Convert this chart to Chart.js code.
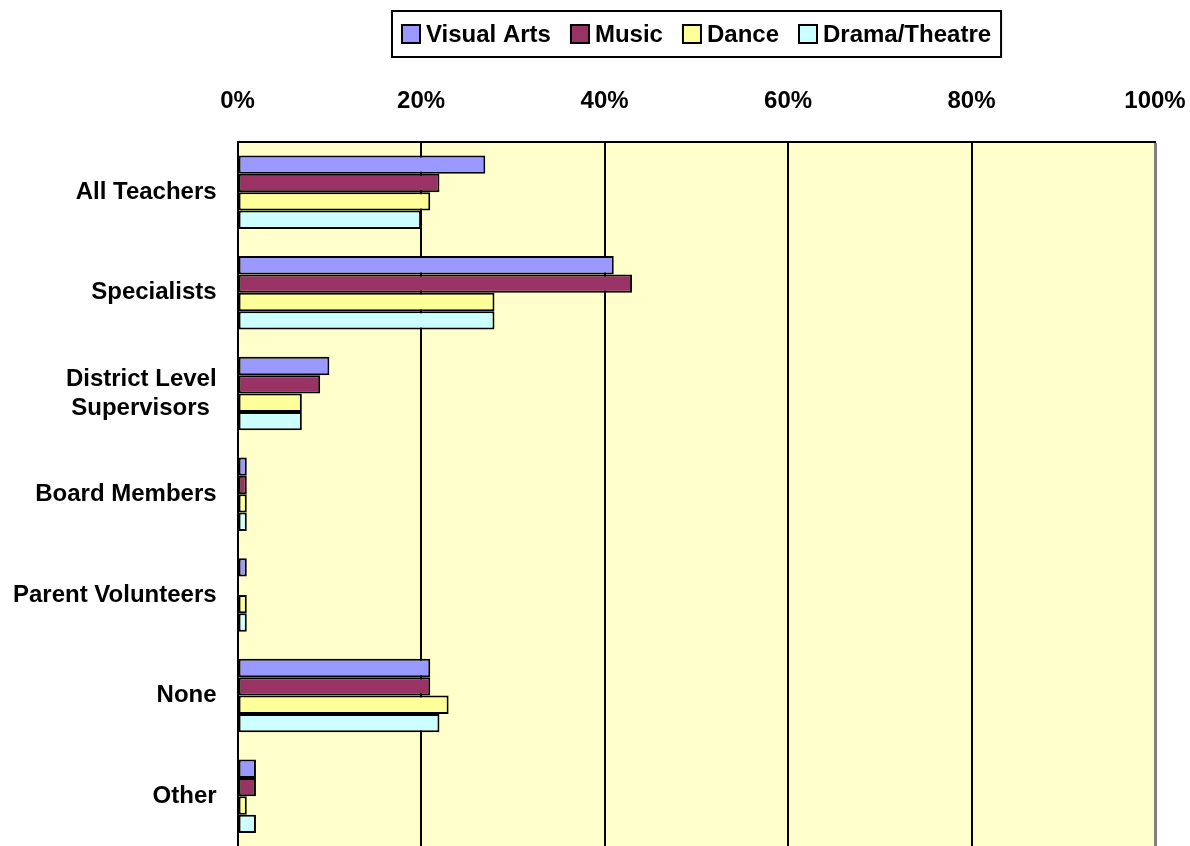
<!DOCTYPE html>
<html>
<head>
<meta charset="utf-8">
<script src="https://cdn.jsdelivr.net/npm/chart.js@4.4.1/dist/chart.umd.min.js"></script>
<style>
  html, body { margin: 0; padding: 0; background: #ffffff; overflow: hidden; }
  #wrap { width: 1190px; height: 846px; position: relative; overflow: hidden; }
  #c { display: block; }
</style>
</head>
<body>
<div id="wrap"><canvas id="c" width="1190" height="861"></canvas></div>
<script>
const categories = ['All Teachers', 'Specialists', ['District Level', 'Supervisors '], 'Board Members', 'Parent Volunteers', 'None', 'Other'];
const seriesNames = ['Visual Arts', 'Music', 'Dance', 'Drama/Theatre'];
const visualArts = [27, 41, 10, 1, 1, 21, 2];
const music      = [22, 43, 9, 1, 0, 21, 2];
const dance      = [21, 28, 7, 1, 1, 23, 1];
const drama      = [20, 28, 7, 1, 1, 22, 2];
const tickValues = [0, 20, 40, 60, 80, 100];
const seriesColors = ['#9999FF', '#993366', '#FFFF99', '#CCFFFF'];

const FONT = '"Liberation Sans", Arial, Helvetica, sans-serif';
const allValues = [visualArts, music, dance, drama];

const plotBg = {
  id: 'plotBg',
  beforeDraw(chart) {
    const a = chart.chartArea, ctx = chart.ctx;
    ctx.save();
    ctx.fillStyle = '#FFFFCC';
    ctx.fillRect(a.left, a.top, a.right - a.left, a.bottom - a.top);
    ctx.restore();
  }
};

const boxLegend = {
  id: 'boxLegend',
  afterDraw(chart) {
    const ctx = chart.ctx, a = chart.chartArea;
    ctx.save();
    ctx.font = 'bold 24px ' + FONT;
    const marker = 18, gapText = 6, gapItem = 20, margin = 10;
    const widths = chart.data.datasets.map(d => ctx.measureText(d.label).width);
    let total = margin * 2;
    widths.forEach((w, i) => { total += marker + gapText + w + (i < widths.length - 1 ? gapItem : 0); });
    const cx = (a.left + a.right) / 2;
    const left = Math.round(cx - total / 2), top = 11, h = 46;
    ctx.fillStyle = '#ffffff';
    ctx.fillRect(left, top, total, h);
    ctx.strokeStyle = '#000000';
    ctx.lineWidth = 2;
    ctx.strokeRect(left, top, total, h);
    let x = left + margin;
    const cy = top + h / 2;
    chart.data.datasets.forEach((d, i) => {
      ctx.fillStyle = d.backgroundColor;
      ctx.fillRect(x, cy - marker / 2, marker, marker);
      ctx.lineWidth = 2;
      ctx.strokeStyle = '#000000';
      ctx.strokeRect(x, cy - marker / 2, marker, marker);
      x += marker + gapText;
      ctx.fillStyle = '#000000';
      ctx.textBaseline = 'middle';
      ctx.textAlign = 'left';
      ctx.fillText(d.label, x, cy + 1);
      x += widths[i] + gapItem;
    });
    ctx.restore();
  }
};

new Chart(document.getElementById('c'), {
  type: 'bar',
  data: {
    labels: categories,
    datasets: seriesNames.map((name, i) => ({
      label: name,
      data: allValues[i],
      backgroundColor: seriesColors[i],
      borderColor: '#000000',
      borderWidth: 2,
      borderSkipped: false,
      barPercentage: 1.0,
      categoryPercentage: 0.73
    }))
  },
  options: {
    indexAxis: 'y',
    responsive: false,
    animation: false,
    devicePixelRatio: 1,
    layout: { padding: { top: 87, left: 13, right: 35, bottom: 0 } },
    plugins: { legend: { display: false }, tooltip: { enabled: false } },
    scales: {
      x: {
        position: 'top',
        min: 0, max: 100,
        afterBuildTicks(axis) { axis.ticks = tickValues.map(v => ({ value: v })); },
        ticks: {
          callback: v => v + '%',
          color: '#000000',
          font: { family: FONT, size: 24, weight: 'bold' },
          padding: 0,
          maxRotation: 0
        },
        grid: {
          color: ctx => (ctx.tick && ctx.tick.value === 100) ? '#808080' : '#000000',
          lineWidth: ctx => (ctx.tick && ctx.tick.value === 100) ? 3 : 2,
          drawTicks: true,
          tickLength: 26,
          tickColor: 'rgba(0,0,0,0)'
        },
        border: { display: true, color: '#000000', width: 2 }
      },
      y: {
        ticks: {
          color: '#000000',
          font: { family: FONT, size: 24, weight: 'bold' },
          padding: 0
        },
        grid: {
          display: true,
          color: 'rgba(0,0,0,0)',
          drawTicks: true,
          tickLength: 21,
          tickColor: 'rgba(0,0,0,0)'
        },
        border: { display: true, color: '#000000', width: 2 }
      }
    }
  },
  plugins: [plotBg, boxLegend]
});
</script>
</body>
</html>
